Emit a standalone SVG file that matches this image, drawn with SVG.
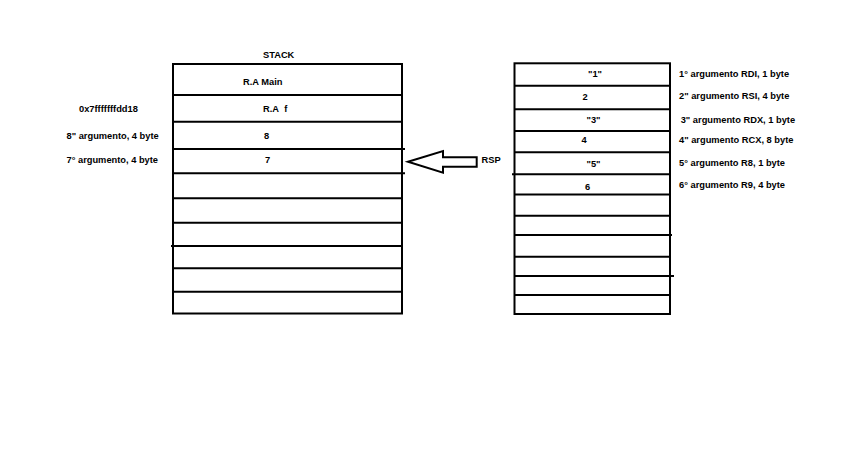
<svg xmlns="http://www.w3.org/2000/svg" width="865" height="467" viewBox="0 0 865 467">
<style>
.t{font-family:"Liberation Sans",Arial,sans-serif;font-weight:bold;font-size:9.3px;fill:#000}
.box{fill:#fff;stroke:#000;stroke-width:2}
.ln{stroke:#000;stroke-width:2}
</style>
<rect width="865" height="467" fill="#fff"/>
<text class="t" x="263" y="58">STACK</text>
<g id="stack">
<rect class="box" x="173" y="64" width="229" height="249.5"/>
<line class="ln" x1="173" y1="95" x2="403" y2="95"/>
<line class="ln" x1="173" y1="121.7" x2="402" y2="121.7"/>
<line class="ln" x1="173" y1="149" x2="405" y2="149"/>
<line class="ln" x1="173" y1="173.3" x2="405" y2="173.3"/>
<line class="ln" x1="173" y1="198.3" x2="403" y2="198.3"/>
<line class="ln" x1="173" y1="222.7" x2="402" y2="222.7"/>
<line class="ln" x1="171" y1="246" x2="402" y2="246"/>
<line class="ln" x1="173" y1="268.3" x2="402" y2="268.3"/>
<line class="ln" x1="173" y1="291.7" x2="402" y2="291.7"/>
<text class="t" x="243" y="84.5">R.A Main</text>
<text class="t" x="263" y="111.7">R.A&#160; f</text>
<text class="t" x="264" y="139">8</text>
<text class="t" x="265" y="163.3">7</text>
</g>
<g id="stack-labels">
<text class="t" x="79" y="111.7">0x7fffffffdd18</text>
<text class="t" x="66.5" y="139">8" argumento, 4 byte</text>
<text class="t" x="66.5" y="163.3">7° argumento, 4 byte</text>
</g>
<g id="connectors">
<polygon points="408,161.7 443,151 443,157.3 476.7,157.3 476.7,166.7 443,166.7 443,172.7" fill="#fff" stroke="#000" stroke-width="2" stroke-linejoin="miter"/>
</g>
<g id="rsp">
<text class="t" x="481.5" y="163.3">RSP</text>
</g>
<g id="registers">
<rect class="box" x="514.5" y="63.3" width="155.5" height="250.7"/>
<line class="ln" x1="514.5" y1="85.7" x2="670" y2="85.7"/>
<line class="ln" x1="514.5" y1="109.3" x2="670" y2="109.3"/>
<line class="ln" x1="514.5" y1="131" x2="670" y2="131"/>
<line class="ln" x1="514.5" y1="152.3" x2="670" y2="152.3"/>
<line class="ln" x1="512" y1="174.3" x2="670" y2="174.3"/>
<line class="ln" x1="514.5" y1="194.5" x2="670" y2="194.5"/>
<line class="ln" x1="514.5" y1="215.7" x2="670" y2="215.7"/>
<line class="ln" x1="514.5" y1="235" x2="672" y2="235"/>
<line class="ln" x1="514.5" y1="256.7" x2="670" y2="256.7"/>
<line class="ln" x1="514.5" y1="276" x2="674" y2="276"/>
<line class="ln" x1="514.5" y1="295" x2="670" y2="295"/>
<text class="t" x="588" y="76.7">"1"</text>
<text class="t" x="582.5" y="100">2</text>
<text class="t" x="586.5" y="123.3">"3"</text>
<text class="t" x="581.5" y="143.3">4</text>
<text class="t" x="586.5" y="167.3">"5"</text>
<text class="t" x="585" y="190">6</text>
</g>
<g id="register-labels">
<text class="t" x="679" y="76.7">1° argumento RDI, 1 byte</text>
<text class="t" x="679" y="99.3">2" argumento RSI, 4 byte</text>
<text class="t" x="680.7" y="122.7">3" argumento RDX, 1 byte</text>
<text class="t" x="679" y="142.7">4" argumento RCX, 8 byte</text>
<text class="t" x="679" y="166">5° argumento R8, 1 byte</text>
<text class="t" x="679" y="188.3">6° argumento R9, 4 byte</text>
</g>
</svg>
